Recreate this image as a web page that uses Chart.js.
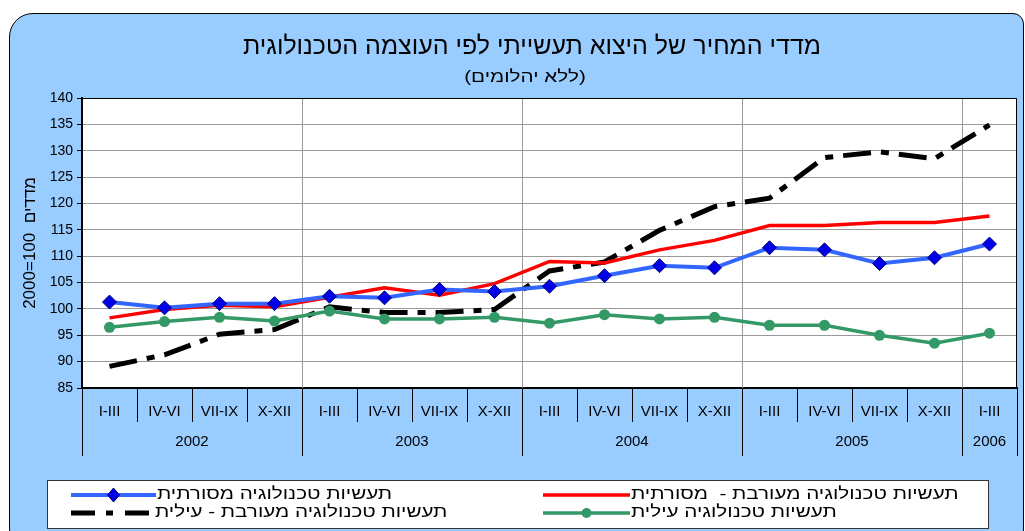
<!DOCTYPE html>
<html>
<head>
<meta charset="utf-8">
<script src="https://cdn.jsdelivr.net/npm/chart.js@4.4.1/dist/chart.umd.min.js"></script>
<style>
html, body { margin: 0; padding: 0; background: #fff; overflow: hidden; }
#frame {
    position: absolute; left: 9px; top: 13px; width: 1015px; height: 540px;
    background: #99ccff; border: 1px solid #000; box-sizing: border-box;
    border-radius: 24px 11px 24px 24px;
}
#wrap { position: absolute; left: 0; top: 0; width: 1025px; height: 531px; }
</style>
</head>
<body>
<div id="frame"></div>
<div id="wrap"><canvas id="chart" width="1025" height="531"></canvas></div>
<script>
const FONT = "'Liberation Sans', Arial, 'DejaVu Sans', sans-serif";
// the hebrew text of the original is wider than this font, so it gets stretched a bit
const HEB_STRETCH = 1.29;

// categories
const quarters = ['I-III', 'IV-VI', 'VII-IX', 'X-XII',
                  'I-III', 'IV-VI', 'VII-IX', 'X-XII',
                  'I-III', 'IV-VI', 'VII-IX', 'X-XII',
                  'I-III', 'IV-VI', 'VII-IX', 'X-XII',
                  'I-III'];
const years = ['2002', '2003', '2004', '2005', '2006'];
const yearLengths = [4, 4, 4, 4, 1];

// series (index, 2000=100)
const traditional      = [101.3, 100.2, 101.0, 101.0, 102.4, 102.1, 103.7, 103.3, 104.3, 106.3, 108.2, 107.8, 111.6, 111.2, 108.6, 109.7, 112.3];
const mixedTraditional = [98.3, 99.9, 100.7, 100.4, 102.2, 104.0, 102.6, 104.8, 109.0, 108.7, 111.2, 113.0, 115.8, 115.8, 116.4, 116.4, 117.6];
const mixedHigh        = [89.1, 91.3, 95.2, 96.1, 100.4, 99.3, 99.3, 99.9, 107.2, 108.9, 114.9, 119.4, 121.0, 128.7, 129.8, 128.5, 134.9];
const highTech         = [96.5, 97.6, 98.4, 97.7, 99.6, 98.1, 98.1, 98.4, 97.3, 98.9, 98.1, 98.4, 96.9, 96.9, 95.0, 93.5, 95.4];

const seriesNames = [
    'תעשיות טכנולוגיה מסורתית',
    'תעשיות טכנולוגיה מעורבת -  מסורתית',
    'תעשיות טכנולוגיה מעורבת - עילית',
    'תעשיות טכנולוגיה עילית'
];

const yMin = 85, yMax = 140, yStep = 5;

const titleText = 'מדדי המחיר של היצוא תעשייתי לפי העוצמה הטכנולוגית';
const subtitleText = '(ללא יהלומים)';
const yTitle = '2000=100  מדדים';

const BLUE = '#3366ff', RED = '#ff0000', GREEN = '#339966', BLACK = '#000000';
const blackDash = [28, 10, 8, 10];

function stretchedText(ctx, text, x, y, align) {
    ctx.save();
    ctx.translate(x, y);
    ctx.scale(HEB_STRETCH, 1);
    ctx.textAlign = align;
    ctx.textBaseline = 'middle';
    ctx.fillText(text, 0, 0);
    ctx.restore();
}

// titles
const titlesPlugin = {
    id: 'titles',
    afterDraw(chart) {
        const ctx = chart.ctx;
        ctx.save();
        ctx.fillStyle = '#000';
        ctx.textAlign = 'center';
        ctx.textBaseline = 'middle';
        ctx.font = '25px ' + FONT;
        ctx.fillText(titleText, 532, 47);
        ctx.font = '16px ' + FONT;
        stretchedText(ctx, subtitleText, 525, 78, 'center');
        ctx.restore();
    }
};

// plot frame, year grid lines, category separators and year labels
const groupsPlugin = {
    id: 'groups',
    beforeDraw(chart) {
        const { ctx, chartArea: a } = chart;
        ctx.save();
        ctx.fillStyle = '#fff';
        ctx.fillRect(a.left, a.top, a.right - a.left, a.bottom - a.top);
        ctx.restore();
    },
    beforeDatasetsDraw(chart) {
        const { ctx, chartArea: a, scales: { x } } = chart;
        const half = (x.getPixelForValue(1) - x.getPixelForValue(0)) / 2;
        ctx.save();
        ctx.strokeStyle = '#999';
        ctx.lineWidth = 1;
        let k = 0;
        for (let i = 0; i < yearLengths.length - 1; i++) {
            k += yearLengths[i];
            const px = Math.round(x.getPixelForValue(k) - half) + 0.5;
            ctx.beginPath();
            ctx.moveTo(px, a.top);
            ctx.lineTo(px, a.bottom);
            ctx.stroke();
        }
        ctx.restore();
    },
    afterDraw(chart) {
        const { ctx, chartArea: a, scales: { x } } = chart;
        const half = (x.getPixelForValue(1) - x.getPixelForValue(0)) / 2;
        ctx.save();
        ctx.strokeStyle = '#000';
        ctx.lineWidth = 1;
        ctx.beginPath();
        ctx.moveTo(a.left, a.top + 0.5);
        ctx.lineTo(a.right - 0.5, a.top + 0.5);
        ctx.lineTo(a.right - 0.5, a.bottom);
        ctx.stroke();

        const bounds = [0];
        yearLengths.forEach(n => bounds.push(bounds[bounds.length - 1] + n));
        for (let k = 0; k <= quarters.length; k++) {
            const px = Math.round(x.getPixelForValue(k) - half) + 0.5;
            const isYear = bounds.includes(k);
            ctx.beginPath();
            ctx.moveTo(px, a.bottom);
            ctx.lineTo(px, a.bottom + (isYear ? 68 : 34));
            ctx.stroke();
        }

        ctx.fillStyle = '#000';
        ctx.font = '15px ' + FONT;
        ctx.textAlign = 'center';
        ctx.textBaseline = 'middle';
        years.forEach((yr, i) => {
            const l = x.getPixelForValue(bounds[i]) - half;
            const r = x.getPixelForValue(bounds[i + 1]) - half;
            ctx.fillText(yr, (l + r) / 2, a.bottom + 54);
        });
        ctx.restore();
    }
};

// legend box drawn like the original (line samples with markers)
const legendPlugin = {
    id: 'boxLegend',
    afterDraw(chart) {
        const ctx = chart.ctx;
        const ds = chart.data.datasets;
        ctx.save();
        ctx.fillStyle = '#fff';
        ctx.fillRect(47, 480, 941, 48);
        ctx.strokeStyle = '#333';
        ctx.lineWidth = 1;
        ctx.strokeRect(47.5, 480.5, 941, 48);

        const rows = [
            { i: 0, x0: 71, x1: 156, y: 495 },
            { i: 1, x0: 543, x1: 630, y: 495 },
            { i: 2, x0: 71, x1: 154, y: 513 },
            { i: 3, x0: 543, x1: 630, y: 513 }
        ];
        rows.forEach(r => {
            const d = ds[r.i];
            ctx.strokeStyle = d.borderColor;
            ctx.lineWidth = d.borderWidth;
            ctx.setLineDash(r.i === 2 ? [24, 11, 7, 12] : []);
            ctx.beginPath();
            ctx.moveTo(r.x0, r.y);
            ctx.lineTo(r.x1, r.y);
            ctx.stroke();
            ctx.setLineDash([]);
            const cx = (r.x0 + r.x1) / 2;
            if (r.i === 0) {
                ctx.fillStyle = d.pointBackgroundColor;
                ctx.strokeStyle = d.pointBorderColor;
                ctx.lineWidth = 1;
                ctx.beginPath();
                ctx.moveTo(cx, r.y - 7);
                ctx.lineTo(cx + 6, r.y);
                ctx.lineTo(cx, r.y + 7);
                ctx.lineTo(cx - 6, r.y);
                ctx.closePath();
                ctx.fill();
                ctx.stroke();
            } else if (r.i === 3) {
                ctx.fillStyle = d.pointBackgroundColor;
                ctx.beginPath();
                ctx.arc(cx, r.y, 5, 0, Math.PI * 2);
                ctx.fill();
            }
            ctx.fillStyle = '#000';
            ctx.font = '16px ' + FONT;
            stretchedText(ctx, d.label, r.x1 + 1, r.y, 'left');
        });
        ctx.restore();
    }
};

new Chart(document.getElementById('chart'), {
    type: 'line',
    data: {
        labels: quarters,
        datasets: [
            {
                label: seriesNames[0], data: traditional, order: 0,
                borderColor: BLUE, borderWidth: 4,
                pointStyle: 'rectRot', pointRadius: 7,
                pointBackgroundColor: '#0000e6', pointBorderColor: '#000080', pointBorderWidth: 1
            },
            {
                label: seriesNames[1], data: mixedTraditional, order: 1,
                borderColor: RED, borderWidth: 3.5, pointRadius: 0
            },
            {
                label: seriesNames[2], data: mixedHigh, order: 3,
                borderColor: BLACK, borderWidth: 5, borderDash: blackDash,
                borderCapStyle: 'butt', pointRadius: 0
            },
            {
                label: seriesNames[3], data: highTech, order: 2,
                borderColor: GREEN, borderWidth: 3.5,
                pointStyle: 'circle', pointRadius: 5.5,
                pointBackgroundColor: GREEN, pointBorderColor: GREEN, pointBorderWidth: 0
            }
        ]
    },
    options: {
        responsive: false,
        animation: false,
        devicePixelRatio: 1,
        tension: 0,
        layout: { padding: { left: 0, right: 4, top: 98, bottom: 73 } },
        plugins: {
            legend: { display: false },
            title: { display: false },
            tooltip: { enabled: false }
        },
        scales: {
            x: {
                offset: true,
                grid: { display: false },
                border: { display: true, color: '#000', width: 2 },
                ticks: {
                    autoSkip: false, maxRotation: 0, color: '#000',
                    font: { family: FONT, size: 15 }, padding: 7
                },
                afterFit(s) { s.height = 70; }
            },
            y: {
                min: yMin, max: yMax,
                ticks: {
                    stepSize: yStep, color: '#000', padding: 4,
                    font: { family: FONT, size: 14 }
                },
                grid: { color: '#999', lineWidth: 1, tickColor: '#000', tickLength: 5 },
                border: { display: true, color: '#000', width: 2 },
                title: {
                    display: true, text: yTitle, color: '#000',
                    font: { family: FONT, size: 17 }, padding: { top: 20, bottom: 0 }
                },
                afterFit(s) { s.width = 82; }
            }
        }
    },
    plugins: [groupsPlugin, titlesPlugin, legendPlugin]
});
</script>
</body>
</html>
